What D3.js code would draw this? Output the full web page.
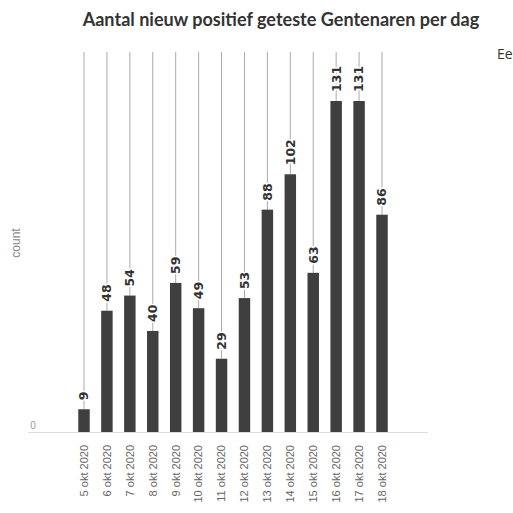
<!DOCTYPE html>
<html>
<head>
<meta charset="utf-8">
<script src="https://cdn.jsdelivr.net/npm/d3@7"></script>
<style>
  body { margin: 0; background: #fff; }
  svg { display: block; }
</style>
</head>
<body>
<script>
// data
var dates = ["5 okt 2020", "6 okt 2020", "7 okt 2020", "8 okt 2020", "9 okt 2020",
    "10 okt 2020", "11 okt 2020", "12 okt 2020", "13 okt 2020", "14 okt 2020",
    "15 okt 2020", "16 okt 2020", "17 okt 2020", "18 okt 2020"];
var counts = [9, 48, 54, 40, 59, 49, 29, 53, 88, 102, 63, 131, 131, 86];
var yTicks = [0];
var title = "Aantal nieuw positief geteste Gentenaren per dag";

var width = 513, height = 513;
var step = (382 - 84) / (dates.length - 1);

var svg = d3.select("body").append("svg")
    .attr("width", width)
    .attr("height", height);

var x = d3.scaleBand()
    .domain(dates)
    .range([84 - step / 2, 382 + step / 2])
    .paddingInner(0.5)
    .paddingOuter(0.25);

var y = d3.scaleLinear()
    .domain([0, d3.max(counts)])
    .range([432, 101]);

var rows = dates.map((d, i) => ({ date: d, value: counts[i] }));

// title
var t = svg.append("text")
    .attr("x", 281)
    .attr("y", 26)
    .attr("text-anchor", "middle")
    .style("font-family", "Lato, 'Open Sans', sans-serif")
    .style("font-weight", "bold")
    .style("font-size", "18px")
    .style("fill", "#333")
    .text(title);
// squeeze title to the width seen in the picture
var tw = t.node().getComputedTextLength();
t.style("font-size", (18 * 397 / tw) + "px");

// cut-off legend text at the right edge
svg.append("text")
    .attr("x", 497)
    .attr("y", 59)
    .style("font-family", "'Open Sans', sans-serif")
    .style("font-size", "14px")
    .style("fill", "#333")
    .text("Ee");

// baseline
svg.append("line")
    .attr("x1", 28).attr("x2", 428)
    .attr("y1", y(0) + 0.5).attr("y2", y(0) + 0.5)
    .attr("stroke", "#ddd");

// y tick label
svg.selectAll(".ytick")
    .data(yTicks)
    .enter().append("text")
    .attr("class", "ytick")
    .attr("x", 33)
    .attr("y", d => y(d) - 3)
    .attr("text-anchor", "middle")
    .style("font-family", "'Liberation Sans', sans-serif")
    .style("font-size", "10px")
    .style("fill", "#999")
    .text(d => d);

// y axis title
svg.append("text")
    .attr("transform", "translate(20,243) rotate(-90)")
    .attr("text-anchor", "middle")
    .style("font-family", "'Liberation Sans', sans-serif")
    .style("font-size", "12px")
    .style("fill", "#888")
    .text("count");

// leader lines from top down to each bar
svg.append("g")
    .selectAll("line")
    .data(rows)
    .enter().append("line")
    .attr("x1", d => x(d.date) + x.bandwidth() / 2)
    .attr("x2", d => x(d.date) + x.bandwidth() / 2)
    .attr("y1", 52)
    .attr("y2", d => y(d.value))
    .attr("stroke", "#aaa")
    .attr("stroke-width", 1);

// bars
svg.append("g")
    .selectAll("rect")
    .data(rows)
    .enter().append("rect")
    .attr("x", d => x(d.date))
    .attr("y", d => y(d.value))
    .attr("width", x.bandwidth())
    .attr("height", d => y(0) - y(d.value))
    .attr("fill", "#3f3f3f");

// value labels, rotated, with white halo over the lines
svg.append("g")
    .selectAll("text")
    .data(rows)
    .enter().append("text")
    .attr("transform", d => "translate(" + (x(d.date) + x.bandwidth() / 2) + "," + (y(d.value) - 9) + ") rotate(-90)")
    .attr("dy", "0.35em")
    .attr("text-anchor", "start")
    .style("font-family", "'DejaVu Sans', sans-serif")
    .style("font-weight", "bold")
    .style("font-size", "12.5px")
    .style("fill", "#333")
    .style("stroke", "#fff")
    .style("stroke-width", "3px")
    .style("paint-order", "stroke")
    .text(d => d.value);

// x tick labels
svg.append("g")
    .selectAll("text")
    .data(rows)
    .enter().append("text")
    .attr("transform", d => "translate(" + (x(d.date) + x.bandwidth() / 2) + ",445) rotate(-90)")
    .attr("dy", "0.35em")
    .attr("text-anchor", "end")
    .style("font-family", "'Liberation Sans', sans-serif")
    .style("font-size", "11px")
    .style("fill", "#666")
    .text(d => d.date);
</script>
</body>
</html>
